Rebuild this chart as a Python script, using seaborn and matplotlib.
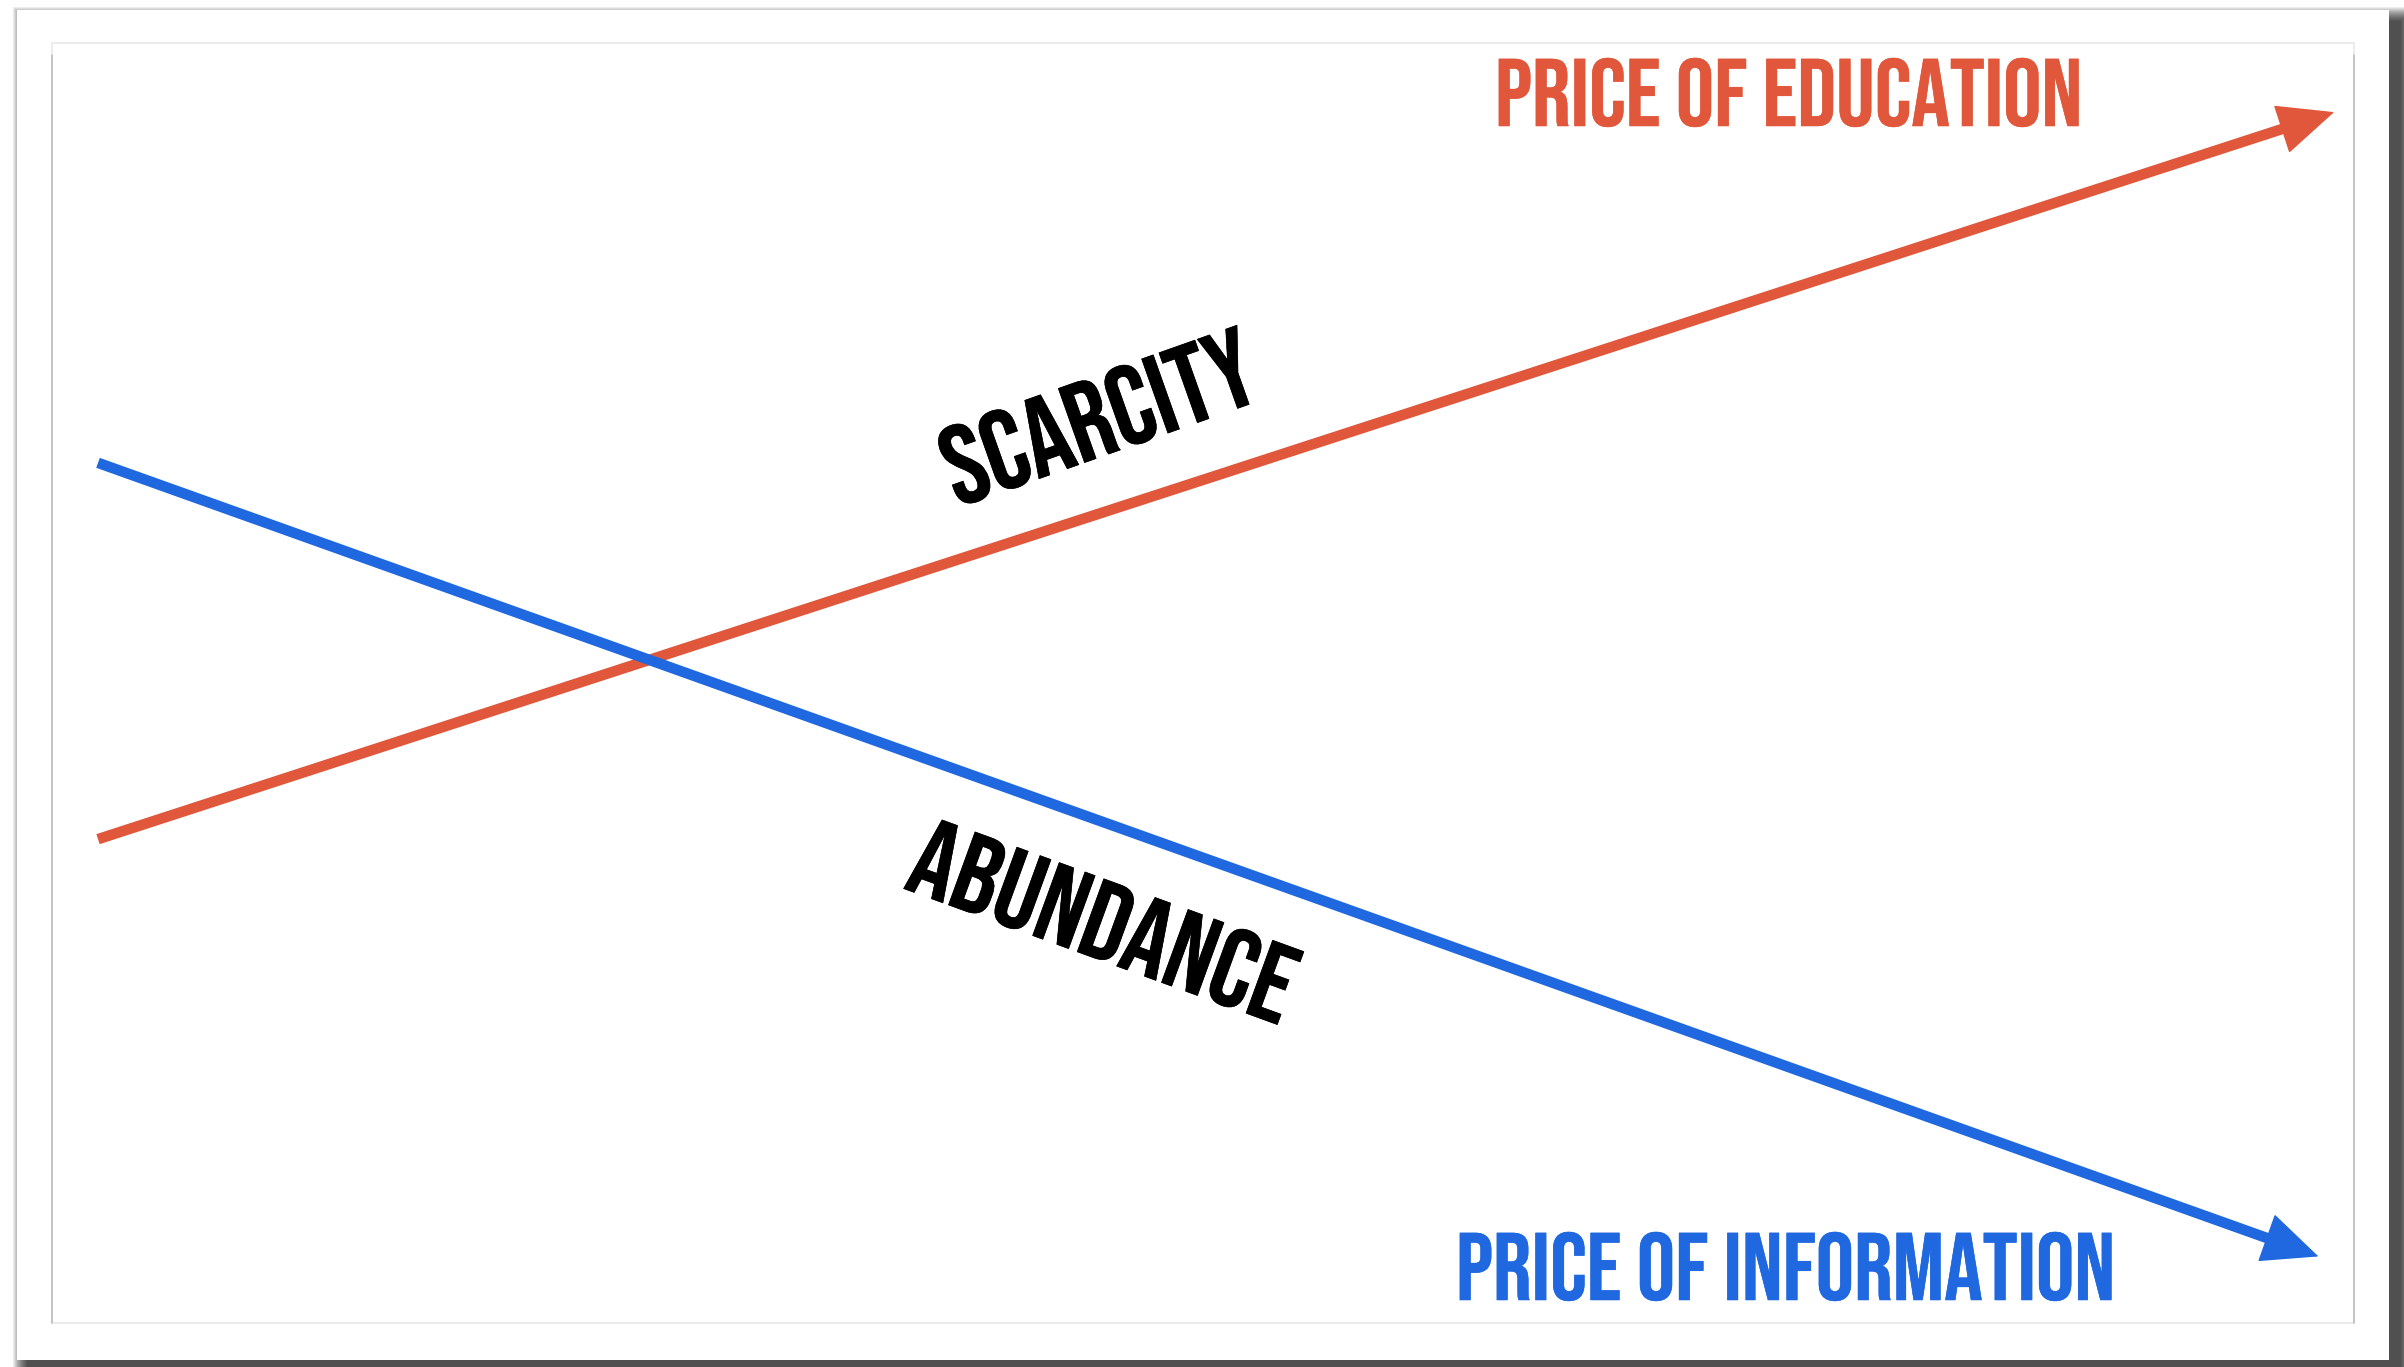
import matplotlib
matplotlib.use("Agg")
import matplotlib.pyplot as plt
from matplotlib.patches import Rectangle
from matplotlib.lines import Line2D
import matplotlib.patheffects as pe
import numpy as np
import pandas as pd
import seaborn as sns

# ------------------------------------------------------------------
# data (index 0..100, time 0..10)
# ------------------------------------------------------------------
series_names = ["Price of education", "Price of information"]
edu_time = [0, 10]
edu_price = [37.8, 94.6]
info_time = [0, 9.93]
info_price = [67.2, 5.2]

label_edu = "PRICE OF EDUCATION"
label_info = "PRICE OF INFORMATION"
label_up = "SCARCITY"
label_down = "ABUNDANCE"

red = "#E0573B"
blue = "#1F68DF"

df = pd.concat([
    pd.DataFrame({"time": edu_time, "price": edu_price, "serie": series_names[0]}),
    pd.DataFrame({"time": info_time, "price": info_price, "serie": series_names[1]}),
])

sns.set_theme(style="white")
plt.rcParams["font.family"] = ["Bebas Neue", "Oswald", "DejaVu Sans"]

W, H = 2404, 1367
fig = plt.figure(figsize=(W / 100, H / 100), dpi=100, facecolor="white")


def box(x0, y0, x1, y1):
    # pixel box (top-left origin) -> figure fraction rect
    return (x0 / W, 1 - y1 / H), (x1 - x0) / W, (y1 - y0) / H


# drop shadow + white card (kept behind the axes)
card = (17, 10, 2389, 1360)
for e in range(15, 0, -1):
    xy, w, h = box(card[0] + 11 - e, card[1] + 12 - e, card[2] + 11 + e, card[3] + 12 + e)
    fig.add_artist(Rectangle(xy, w, h, transform=fig.transFigure, zorder=-20,
                             facecolor="black", edgecolor="none", alpha=0.07))
xy, w, h = box(*card)
fig.add_artist(Rectangle(xy, w, h, transform=fig.transFigure, zorder=-10,
                         facecolor="white", edgecolor="none"))

# inner frame
inner = (52, 43, 2354, 1323)
xy, w, h = box(*inner)
fig.add_artist(Rectangle(xy, w, h, transform=fig.transFigure, zorder=-5,
                         facecolor="white", edgecolor="#ececec", lw=1.5))
for xp in (inner[0], inner[2]):
    fig.add_artist(Line2D([xp / W, xp / W], [1 - inner[3] / H, 1 - (inner[1] + 12) / H],
                          transform=fig.transFigure, color="#bdbdbd", lw=1.2, zorder=-4))

# plot area = inner frame
ax = fig.add_axes([xy[0], xy[1], w, h])
ax.patch.set_alpha(0)
ax.set_xlim(-0.2057, 10.089)
ax.set_ylim(0, 100)
ax.set_axis_off()

sns.lineplot(data=df, x="time", y="price", hue="serie",
             palette={series_names[0]: red, series_names[1]: blue},
             legend=False, ax=ax)

# thicker lines, ending a little before the tip so the arrow head covers them
for line in ax.lines:
    line.set_linewidth(7.6)
    line.set_solid_capstyle("butt")
    pts = ax.transData.transform(np.column_stack([line.get_xdata(), line.get_ydata()]))
    d = pts[-1] - pts[-2]
    pts[-1] = pts[-1] - 26 * d / np.hypot(*d)
    back = ax.transData.inverted().transform(pts)
    line.set_data(back[:, 0], back[:, 1])

# arrow heads at the end of each line
for tx, py, col in [(edu_time, edu_price, red), (info_time, info_price, blue)]:
    x0, x1 = tx[-2], tx[-1]
    y0, y1 = py[-2], py[-1]
    ax.annotate("", xy=(x1, y1),
                xytext=(x1 - 0.06 * (x1 - x0), y1 - 0.06 * (y1 - y0)),
                arrowprops=dict(arrowstyle="-|>,head_length=1.9,head_width=0.85",
                                mutation_scale=20, color=col, lw=1,
                                shrinkA=0, shrinkB=0))

# labels
fx = [pe.withStroke(linewidth=0.4, foreground=c) for c in (red, blue, "black")]
fig.text(1495 / W, 1 - 126 / H, label_edu, color=red, fontsize=69,
         ha="left", va="baseline", path_effects=[fx[0]])
fig.text(1456 / W, 1 - 1300 / H, label_info, color=blue, fontsize=69,
         ha="left", va="baseline", path_effects=[fx[1]])
fig.text(1098 / W, 1 - 416 / H, label_up, color="black", fontsize=81,
         ha="center", va="center", rotation=19.5, rotation_mode="anchor",
         path_effects=[fx[2]])
fig.text(1104 / W, 1 - 920 / H, label_down, color="black", fontsize=80,
         ha="center", va="center", rotation=-20, rotation_mode="anchor",
         path_effects=[fx[2]])

fig.savefig("out.png", dpi=100, facecolor=fig.get_facecolor())
